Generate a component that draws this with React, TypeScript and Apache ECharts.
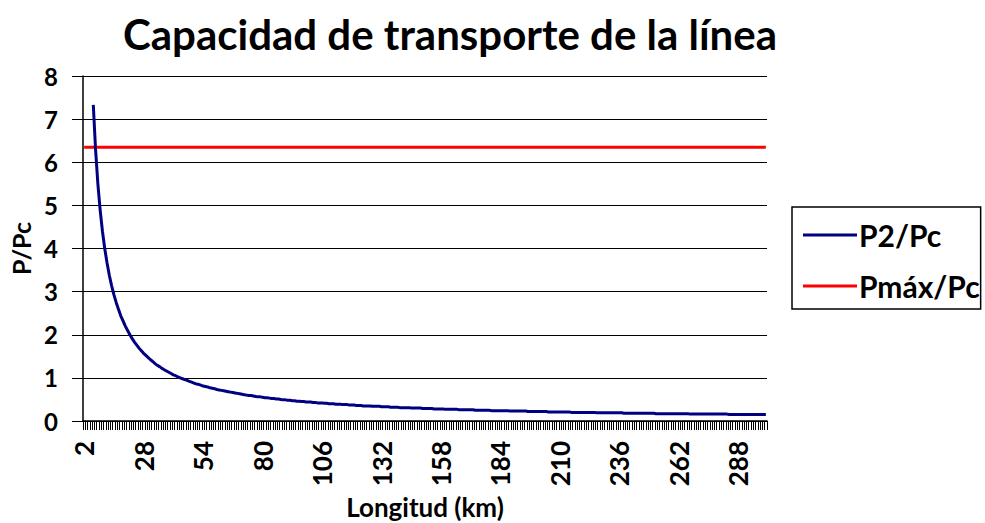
import React, { useEffect, useRef } from "react";
import * as echarts from "echarts";

const TITLE = "Capacidad de transporte de la línea";
const X_NAME = "Longitud (km)";
const Y_NAME = "P/Pc";
const SERIES_NAMES = ["P2/Pc", "Pmáx/Pc"];

// Longitud (km): categories from 2 to 300, step 1
const L_START = 2;
const L_END = 300;
const categories: string[] = [];
for (let l = L_START; l <= L_END; l++) categories.push(String(l));

// P2/Pc (L = 2 .. 300)
const p2: (number | null)[] = [
  null, null, null, null,
  7.33, 6.29, 5.5, 4.89, 4.4, 4.0, 3.67, 3.38, 3.14, 2.93,
  2.75, 2.59, 2.44, 2.32, 2.2, 2.1, 2.0, 1.91, 1.83, 1.76,
  1.69, 1.63, 1.57, 1.52, 1.47, 1.42, 1.38, 1.33, 1.29, 1.26,
  1.22, 1.19, 1.16, 1.13, 1.1, 1.07, 1.05, 1.02, 1.0, 0.98,
  0.96, 0.94, 0.92, 0.9, 0.88, 0.86, 0.85, 0.83, 0.81, 0.8,
  0.79, 0.77, 0.76, 0.75, 0.73, 0.72, 0.71, 0.7, 0.69, 0.68,
  0.67, 0.66, 0.65, 0.64, 0.63, 0.62, 0.61, 0.6, 0.59, 0.59,
  0.58, 0.57, 0.56, 0.56, 0.55, 0.54, 0.54, 0.53, 0.52, 0.52,
  0.51, 0.51, 0.5, 0.49, 0.49, 0.48, 0.48, 0.47, 0.47, 0.46,
  0.46, 0.45, 0.45, 0.44, 0.44, 0.44, 0.43, 0.43, 0.42, 0.42,
  0.42, 0.41, 0.41, 0.4, 0.4, 0.4, 0.39, 0.39, 0.39, 0.38,
  0.38, 0.38, 0.37, 0.37, 0.37, 0.36, 0.36, 0.36, 0.35, 0.35,
  0.35, 0.35, 0.34, 0.34, 0.34, 0.34, 0.33, 0.33, 0.33, 0.33,
  0.32, 0.32, 0.32, 0.32, 0.31, 0.31, 0.31, 0.31, 0.31, 0.3,
  0.3, 0.3, 0.3, 0.3, 0.29, 0.29, 0.29, 0.29, 0.29, 0.28,
  0.28, 0.28, 0.28, 0.28, 0.27, 0.27, 0.27, 0.27, 0.27, 0.27,
  0.26, 0.26, 0.26, 0.26, 0.26, 0.26, 0.26, 0.25, 0.25, 0.25,
  0.25, 0.25, 0.25, 0.25, 0.24, 0.24, 0.24, 0.24, 0.24, 0.24,
  0.24, 0.24, 0.23, 0.23, 0.23, 0.23, 0.23, 0.23, 0.23, 0.23,
  0.22, 0.22, 0.22, 0.22, 0.22, 0.22, 0.22, 0.22, 0.22, 0.21,
  0.21, 0.21, 0.21, 0.21, 0.21, 0.21, 0.21, 0.21, 0.21, 0.2,
  0.2, 0.2, 0.2, 0.2, 0.2, 0.2, 0.2, 0.2, 0.2, 0.2,
  0.19, 0.19, 0.19, 0.19, 0.19, 0.19, 0.19, 0.19, 0.19, 0.19,
  0.19, 0.19, 0.18, 0.18, 0.18, 0.18, 0.18, 0.18, 0.18, 0.18,
  0.18, 0.18, 0.18, 0.18, 0.18, 0.18, 0.17, 0.17, 0.17, 0.17,
  0.17, 0.17, 0.17, 0.17, 0.17, 0.17, 0.17, 0.17, 0.17, 0.17,
  0.17, 0.16, 0.16, 0.16, 0.16, 0.16, 0.16, 0.16, 0.16, 0.16,
  0.16, 0.16, 0.16, 0.16, 0.16, 0.16, 0.16, 0.16, 0.15, 0.15,
  0.15, 0.15, 0.15, 0.15, 0.15, 0.15, 0.15, 0.15, 0.15, 0.15,
  0.15, 0.15, 0.15, 0.15, 0.15,
];

// Pmáx/Pc: constant level
const PMAX = 6.35;
const pmax: number[] = categories.map(() => PMAX);

const Y_MIN = 0;
const Y_MAX = 8;
const Y_STEP = 1;

const FONT = "Lato, 'Open Sans', sans-serif";

export default function App() {
  const ref = useRef<HTMLDivElement>(null);
  useEffect(() => {
    document.body.style.margin = "0";
    if (!ref.current) return;
    const chart = echarts.init(ref.current, null, { renderer: "svg" });
    chart.setOption({
      animation: false,
      backgroundColor: "#fff",
      title: {
        text: TITLE,
        left: 445,
        textAlign: "center",
        top: 8,
        textStyle: { fontFamily: FONT, fontWeight: "bold", fontSize: 42, color: "#000" },
      },
      grid: { left: 83, right: 218, top: 76, bottom: 102, containLabel: false, outerBoundsMode: "none" },
      legend: {
        orient: "vertical",
        left: 792,
        top: 207,
        padding: [13, 1, 8, 11],
        itemGap: 21,
        itemWidth: 54,
        itemHeight: 3,
        icon: "rect",
        borderColor: "#000",
        borderWidth: 1.5,
        data: SERIES_NAMES,
        textStyle: { fontFamily: FONT, fontWeight: "bold", fontSize: 30, color: "#000", lineHeight: 26, padding: [0, 0, 0, -3] },
      },
      xAxis: {
        type: "category",
        data: categories,
        boundaryGap: true,
        name: X_NAME,
        nameLocation: "middle",
        nameGap: 71,
        nameTextStyle: { fontFamily: FONT, fontWeight: "bold", fontSize: 26, color: "#000", verticalAlign: "top" },
        axisLine: { lineStyle: { color: "#000", width: 1.5 } },
        axisTick: { show: true, interval: 0, length: 9, lineStyle: { color: "#000", width: 1 } },
        axisLabel: {
          interval: 25,
          rotate: 90,
          margin: 20,
          fontFamily: FONT,
          fontWeight: "bold",
          fontSize: 26,
          color: "#000",
        },
        splitLine: { show: false },
      },
      yAxis: {
        type: "value",
        min: Y_MIN,
        max: Y_MAX,
        interval: Y_STEP,
        name: Y_NAME,
        nameLocation: "middle",
        nameGap: 50,
        nameTextStyle: { fontFamily: FONT, fontWeight: "bold", fontSize: 25, color: "#000" },
        axisLine: { show: true, lineStyle: { color: "#000", width: 1.5 } },
        axisTick: { show: true, length: 11, lineStyle: { color: "#000", width: 1 } },
        axisLabel: { margin: 25, fontFamily: FONT, fontWeight: "bold", fontSize: 24, color: "#000" },
        splitLine: { show: true, lineStyle: { color: "#000", width: 1 } },
      },
      series: [
        {
          name: SERIES_NAMES[0],
          type: "line",
          data: p2,
          symbol: "none",
          connectNulls: false,
          lineStyle: { color: "#000080", width: 3 },
          itemStyle: { color: "#000080" },
          z: 3,
        },
        {
          name: SERIES_NAMES[1],
          type: "line",
          data: pmax,
          symbol: "none",
          lineStyle: { color: "#ff0000", width: 3 },
          itemStyle: { color: "#ff0000" },
          z: 2,
        },
      ],
    });
    return () => chart.dispose();
  }, []);
  return <div ref={ref} style={{ width: 985, height: 523 }} />;
}
